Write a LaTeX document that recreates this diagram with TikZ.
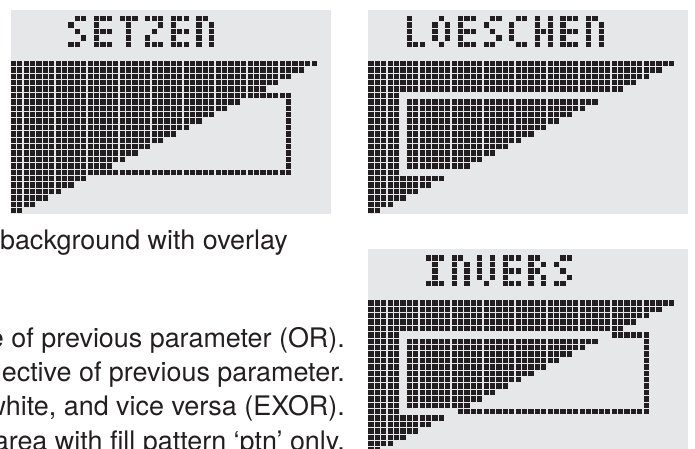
\documentclass[tikz,border=0pt]{standalone}
\usepackage{fontspec}
\setmainfont{TeX Gyre Heros}
\definecolor{PixClr}{RGB}{35,31,32}
\definecolor{PanelClr}{RGB}{230,231,232}

% 3x5 lcd letters, one number per row (bits: left=4, mid=2, right=1)
\def\glyphS{3,4,2,1,6}
\def\glyphE{7,4,7,4,7}
\def\glyphT{7,2,2,2,2}
\def\glyphZ{7,1,2,4,7}
\def\glyphN{6,5,5,5,5}
\def\glyphL{4,4,4,4,7}
\def\glyphO{2,5,5,5,2}
\def\glyphC{3,4,4,4,3}
\def\glyphH{5,5,7,5,5}
\def\glyphI{7,2,2,2,7}
\def\glyphV{5,5,5,5,2}
\def\glyphR{6,5,6,5,5}

% lcd panel: x, y, first title column, title letters, pixel rule
\newcommand\lcdpanel[5]{%
  \begin{scope}[shift={(#1,#2)}]
    \fill[panel] (0,-51.2) rectangle (320,153.6);
    \foreach \ch [count=\k from 0] in {#4}{
      \edef\bits{\csname glyph\ch\endcsname}
      \foreach \v [count=\j from -7] in \bits{
        \foreach \b/\w in {0/4,1/2,2/1}{
          \pgfmathtruncatemacro\on{mod(floor(\v/\w),2)}
          \ifnum\on=1 \fill[pix] ({6.4*(#3+4*\k+\b)},{6.4*\j}) rectangle +(5.3,5.3);\fi
        }}}
    \foreach \r in {0,...,23}{
      \foreach \c in {0,...,47}{
        \pgfmathtruncatemacro\tri{(\c<(48-2*\r))}
        \pgfmathtruncatemacro\frm{(((\r==5)||(\r==17))&&(\c>4)&&(\c<44))||(((\c==5)||(\c==43))&&(\r>4)&&(\r<18))}
        \pgfmathtruncatemacro\on{#5}
        \ifnum\on=1 \fill[pix] ({6.4*\c},{6.4*\r}) rectangle +(5.3,5.3);\fi
      }}
  \end{scope}}

\begin{document}
\begin{tikzpicture}[x=1pt,y=-1pt,
  pix/.style={fill=PixClr},
  panel/.style={fill=PanelClr},
  txt/.style={font=\fontsize{26.9}{31}\selectfont,text=PixClr,inner sep=0pt,anchor=base east}]
\useasboundingbox (0,0) rectangle (695,448);
\clip (0,0) rectangle (695,448);

\lcdpanel{10.7}{60.8}{9}{S,E,T,Z,E,N}{(\tri+\frm)>0}
\lcdpanel{368.3}{60.8}{6}{L,O,E,S,C,H,E,N}{\tri>\frm}
\lcdpanel{368.3}{300.2}{9}{I,N,V,E,R,S}{\tri!=\frm}

\node[txt] (bgline) at (288,249) {background with overlay};
\node[txt] (orline) at (345,347) {e of previous parameter (OR).};
\node[txt] (clrline) at (345,381) {ective of previous parameter.};
\node[txt] (xorline) at (345,415) {white, and vice versa (EXOR).};
\node[txt] (ptnline) at (345,450) {area with fill pattern ‘ptn’ only.};

\end{tikzpicture}
\end{document}
